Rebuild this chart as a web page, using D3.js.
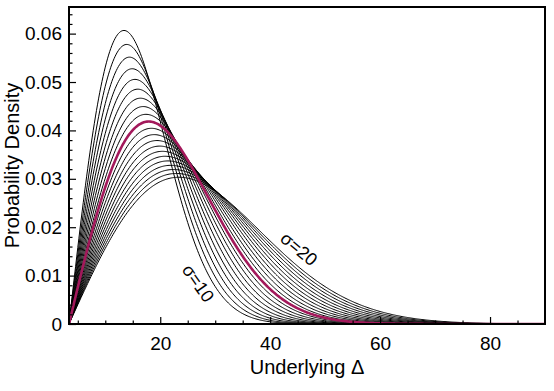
<!DOCTYPE html>
<html>
<head>
<meta charset="utf-8">
<title>Probability Density vs Underlying Delta</title>
<script src="https://d3js.org/d3.v7.min.js"></script>
<style>
  body { margin: 0; background: #fff; }
  text { font-family: "Liberation Sans", Arial, sans-serif; fill: #000; }
</style>
</head>
<body>
<div id="chart"></div>
<script>
// sigma values of the curve family (10 to 20, step 0.5)
const sigmas = [10, 10.5, 11, 11.5, 12, 12.5, 13, 13.5, 14, 14.5, 15,
                15.5, 16, 16.5, 17, 17.5, 18, 18.5, 19, 19.5, 20];
const highlightSigma = 14.5;
const offset = 3.4;          // curves start at the left edge
const xDomain = [3.4, 90];
const yDomain = [0, 0.0655];
const xMajor = [20, 40, 60, 80];
const yMajor = [0, 0.01, 0.02, 0.03, 0.04, 0.05, 0.06];

const width = 554, height = 391;
const margin = { top: 7, right: 9, bottom: 67, left: 69 };

const svg = d3.select("#chart").append("svg")
  .attr("width", width).attr("height", height);

const x = d3.scaleLinear().domain(xDomain).range([margin.left, width - margin.right]);
const y = d3.scaleLinear().domain(yDomain).range([height - margin.bottom, margin.top]);

// shifted Rayleigh density
function density(d, s) {
  const u = d - offset;
  if (u <= 0) return 0;
  return u / (s * s) * Math.exp(-u * u / (2 * s * s));
}

const xs = d3.range(xDomain[0], xDomain[1] + 0.001, 0.2);
const line = d3.line().x(d => x(d[0])).y(d => y(d[1]));

svg.append("clipPath").attr("id", "clip").append("rect")
  .attr("x", margin.left).attr("y", margin.top)
  .attr("width", width - margin.left - margin.right)
  .attr("height", height - margin.top - margin.bottom);

const g = svg.append("g").attr("clip-path", "url(#clip)");

g.selectAll(".curve")
  .data(sigmas.filter(s => s !== highlightSigma))
  .enter().append("path")
  .attr("class", "curve")
  .attr("d", s => line(xs.map(v => [v, density(v, s)])))
  .attr("fill", "none")
  .attr("stroke", "#000")
  .attr("stroke-width", 1);

g.append("path")
  .attr("d", line(xs.map(v => [v, density(v, highlightSigma)])))
  .attr("fill", "none")
  .attr("stroke", "#a3195b")
  .attr("stroke-width", 2.6);

// axes with inward ticks
const xMinor = d3.range(5, 90, 5).filter(v => !xMajor.includes(v));
const yMinor = d3.range(0, 0.065, 0.002).filter(v => !yMajor.some(m => Math.abs(m - v) < 1e-9));

const xAxis = svg.append("g").attr("transform", `translate(0,${height - margin.bottom})`);
xAxis.call(d3.axisBottom(x).tickValues(xMajor).tickSize(-7).tickPadding(13).tickFormat(d3.format("d")));
xAxis.append("g").call(d3.axisBottom(x).tickValues(xMinor).tickSize(-3.5).tickFormat(""));

const yAxis = svg.append("g").attr("transform", `translate(${margin.left},0)`);
yAxis.call(d3.axisLeft(y).tickValues(yMajor).tickSize(-7).tickPadding(7)
  .tickFormat(d => d === 0 ? "0" : d3.format(".2f")(d)));
yAxis.append("g").call(d3.axisLeft(y).tickValues(yMinor).tickSize(-3.5).tickFormat(""));

svg.selectAll(".domain").remove();
svg.selectAll(".tick line").attr("stroke", "#000").attr("stroke-width", 1.2);
svg.selectAll(".tick text").attr("font-size", 19).attr("font-family", "Liberation Sans, Arial, sans-serif");

// frame
svg.append("rect")
  .attr("x", margin.left).attr("y", margin.top)
  .attr("width", width - margin.left - margin.right)
  .attr("height", height - margin.top - margin.bottom)
  .attr("fill", "none").attr("stroke", "#000").attr("stroke-width", 2);

// axis titles
svg.append("text")
  .attr("x", (margin.left + width - margin.right) / 2).attr("y", 374)
  .attr("text-anchor", "middle").attr("font-size", 20)
  .text("Underlying Δ");

svg.append("text")
  .attr("transform", `translate(19,${(margin.top + height - margin.bottom) / 2}) rotate(-90)`)
  .attr("text-anchor", "middle").attr("font-size", 20)
  .text("Probability Density");

// curve labels
svg.append("text")
  .attr("transform", "translate(197,284) rotate(55)")
  .attr("text-anchor", "middle").attr("dominant-baseline", "middle")
  .attr("font-size", 18).text("σ=10");

svg.append("text")
  .attr("transform", "translate(298,250) rotate(40)")
  .attr("text-anchor", "middle").attr("dominant-baseline", "middle")
  .attr("font-size", 18).text("σ=20");
</script>
</body>
</html>
